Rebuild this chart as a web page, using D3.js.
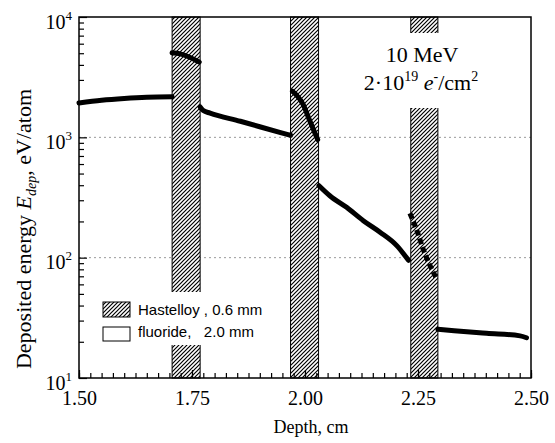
<!DOCTYPE html>
<html><head><meta charset="utf-8">
<script src="https://cdn.jsdelivr.net/npm/d3@7"></script>
<style>body{margin:0;background:#fff}svg{display:block}</style>
</head><body>
<script>
// ---- data ----
const xTickValues = [1.50, 1.75, 2.00, 2.25, 2.50];
const xTickLabels = ["1.50", "1.75", "2.00", "2.25", "2.50"];
const yTickValues = [10, 100, 1000, 10000];
const yTickExponents = ["1", "2", "3", "4"];
const gridValues = [100, 1000];
const bandStart = [1.706, 1.968, 2.234];
const bandEnd = [1.768, 2.030, 2.294];

// curve segments (depth, cm ; deposited energy, eV/atom)
const seg1Depth = [1.50, 1.55, 1.60, 1.65, 1.706];
const seg1Energy = [1930, 2030, 2100, 2150, 2170];
const seg2Depth = [1.706, 1.724, 1.741, 1.766];
const seg2Energy = [5050, 4940, 4700, 4220];
const seg3Depth = [1.768, 1.775, 1.790, 1.857, 1.946, 1.968];
const seg3Energy = [1790, 1670, 1590, 1360, 1095, 1040];
const seg4Depth = [1.972, 1.996, 2.011, 2.028];
const seg4Energy = [2420, 1870, 1360, 960];
const seg5Depth = [2.031, 2.055, 2.092, 2.129, 2.166, 2.203, 2.229];
const seg5Energy = [396, 327, 262, 203, 163, 126, 95];
const seg6Depth = [2.232, 2.247, 2.262, 2.291];
const seg6Energy = [234, 170, 116, 67];
const seg7Depth = [2.294, 2.330, 2.402, 2.476, 2.490];
const seg7Energy = [25.4, 24.7, 23.5, 22.4, 21.6];

const segDepths = [seg1Depth, seg2Depth, seg3Depth, seg4Depth, seg5Depth, seg6Depth, seg7Depth];
const segEnergies = [seg1Energy, seg2Energy, seg3Energy, seg4Energy, seg5Energy, seg6Energy, seg7Energy];
const segDashed = [false, false, false, false, false, true, false];

const legendLabels = ["Hastelloy , 0.6 mm", "fluoride,   2.0 mm"];

// ---- chart ----
const W = 555, H = 443;
const L = 79, R = 531, T = 17, B = 378;
const serif = "'Liberation Serif','Times New Roman',serif";
const sans = "'Liberation Sans',Arial,sans-serif";

const svg = d3.select("body").append("svg").attr("width", W).attr("height", H);
const x = d3.scaleLinear().domain([1.5, 2.5]).range([L, R]);
const y = d3.scaleLog().domain([10, 10000]).range([B, T]);

const defs = svg.append("defs");
const pat = defs.append("pattern").attr("id", "hatch").attr("patternUnits", "userSpaceOnUse")
  .attr("width", 4).attr("height", 4);
pat.append("rect").attr("width", 4).attr("height", 4).attr("fill", "#fff");
pat.append("path").attr("d", "M-1,1 l2,-2 M0,4 l4,-4 M3,5 l2,-2")
  .attr("stroke", "#000").attr("stroke-width", 1.2);

// grid lines
svg.append("g").selectAll("line").data(gridValues).join("line")
  .attr("x1", L).attr("x2", R).attr("y1", d => y(d)).attr("y2", d => y(d))
  .attr("stroke", "#999").attr("stroke-width", 1).attr("stroke-dasharray", "2,3");

// hastelloy bands
svg.append("g").selectAll("rect").data(bandStart).join("rect")
  .attr("x", (d) => x(d)).attr("y", T)
  .attr("width", (d, i) => x(bandEnd[i]) - x(d)).attr("height", B - T)
  .attr("fill", "url(#hatch)").attr("stroke", "#000").attr("stroke-width", 1);

// white boxes for legend and annotation
svg.append("rect").attr("x", 98).attr("y", 292).attr("width", 172).attr("height", 53).attr("fill", "#fff");
svg.append("rect").attr("x", 360).attr("y", 33).attr("width", 125).attr("height", 75).attr("fill", "#fff");

// curves
const line = d3.line().x(d => x(d[0])).y(d => y(d[1])).curve(d3.curveMonotoneX);
segDepths.forEach((dep, i) => {
  const pts = dep.map((d, j) => [d, segEnergies[i][j]]);
  svg.append("path").datum(pts).attr("d", line)
    .attr("fill", "none").attr("stroke", "#000")
    .attr("stroke-width", 5).attr("stroke-linecap", segDashed[i] ? "butt" : "round")
    .attr("stroke-dasharray", segDashed[i] ? "6,3" : null);
});

// frame
svg.append("rect").attr("x", L).attr("y", T).attr("width", R - L).attr("height", B - T)
  .attr("fill", "none").attr("stroke", "#000").attr("stroke-width", 1.5);

// x axis
const xMinor = d3.range(0, 41).map(i => 1.5 + i * 0.025);
const gxm = svg.append("g").attr("transform", `translate(0,${B})`)
  .call(d3.axisBottom(x).tickValues(xMinor).tickFormat("").tickSizeInner(-5).tickSizeOuter(0));
gxm.select(".domain").remove();
const gx = svg.append("g").attr("transform", `translate(0,${B})`)
  .call(d3.axisBottom(x).tickValues(xTickValues).tickFormat((d, i) => xTickLabels[i])
    .tickSizeInner(-8).tickSizeOuter(0));
gx.select(".domain").remove();
gx.selectAll("text").attr("y", 27).attr("dy", 0).attr("font-family", serif)
  .attr("font-size", 20).attr("fill", "#000");
svg.selectAll(".tick line").attr("stroke", "#000").attr("stroke-width", 1.2);

// y axis
const yMinor = [];
[10, 100, 1000].forEach(b => { for (let k = 2; k <= 9; k++) yMinor.push(b * k); });
const gym = svg.append("g").attr("transform", `translate(${L},0)`)
  .call(d3.axisLeft(y).tickValues(yMinor).tickFormat("").tickSizeInner(-5).tickSizeOuter(0));
gym.select(".domain").remove();
const gy = svg.append("g").attr("transform", `translate(${L},0)`)
  .call(d3.axisLeft(y).tickValues(yTickValues).tickFormat("").tickSizeInner(-8).tickSizeOuter(0));
gy.select(".domain").remove();
gy.selectAll(".tick text").each(function (d, i) {
  const t = d3.select(this).attr("x", -7).attr("dy", 0).attr("y", 11)
    .attr("font-family", serif).attr("font-size", 20).attr("fill", "#000").attr("text-anchor", "end");
  t.append("tspan").text("10");
  t.append("tspan").attr("font-size", 13).attr("dy", -9).text(yTickExponents[i]);
});
svg.selectAll(".tick line").attr("stroke", "#000").attr("stroke-width", 1.2);

// axis titles
svg.append("text").attr("x", 311).attr("y", 433).attr("text-anchor", "middle")
  .attr("font-family", serif).attr("font-size", 18).text("Depth, cm");
const yt = svg.append("text").attr("transform", "translate(31,229) rotate(-90)")
  .attr("text-anchor", "middle").attr("font-family", serif).attr("font-size", 22);
yt.append("tspan").text("Deposited energy ");
yt.append("tspan").attr("font-style", "italic").text("E");
yt.append("tspan").attr("font-style", "italic").attr("font-size", 14).attr("dy", 5).text("dep");
yt.append("tspan").attr("dy", -5).text(", eV/atom");

// annotation
svg.append("text").attr("x", 422).attr("y", 62).attr("text-anchor", "middle")
  .attr("font-family", serif).attr("font-size", 22).text("10 MeV");
const a2 = svg.append("text").attr("x", 421).attr("y", 90).attr("text-anchor", "middle")
  .attr("font-family", serif).attr("font-size", 22);
a2.append("tspan").text("2·10");
a2.append("tspan").attr("font-size", 14).attr("dy", -9).text("19");
a2.append("tspan").attr("dy", 9).text(" ");
a2.append("tspan").attr("font-style", "italic").text("e");
a2.append("tspan").attr("font-size", 14).attr("dy", -9).text("-");
a2.append("tspan").attr("dy", 9).text("/cm");
a2.append("tspan").attr("font-size", 14).attr("dy", -9).text("2");

// legend
const lg = svg.append("g");
lg.append("rect").attr("x", 103).attr("y", 302).attr("width", 27).attr("height", 15)
  .attr("fill", "url(#hatch)").attr("stroke", "#000").attr("stroke-width", 1);
lg.append("rect").attr("x", 103).attr("y", 327).attr("width", 27).attr("height", 14)
  .attr("fill", "#fff").attr("stroke", "#000").attr("stroke-width", 1);
lg.selectAll("text").data(legendLabels).join("text")
  .attr("x", 138).attr("y", (d, i) => 315 + i * 22)
  .attr("font-family", sans).attr("font-size", 15).attr("xml:space", "preserve")
  .style("white-space", "pre").text(d => d);
</script>
</body></html>
